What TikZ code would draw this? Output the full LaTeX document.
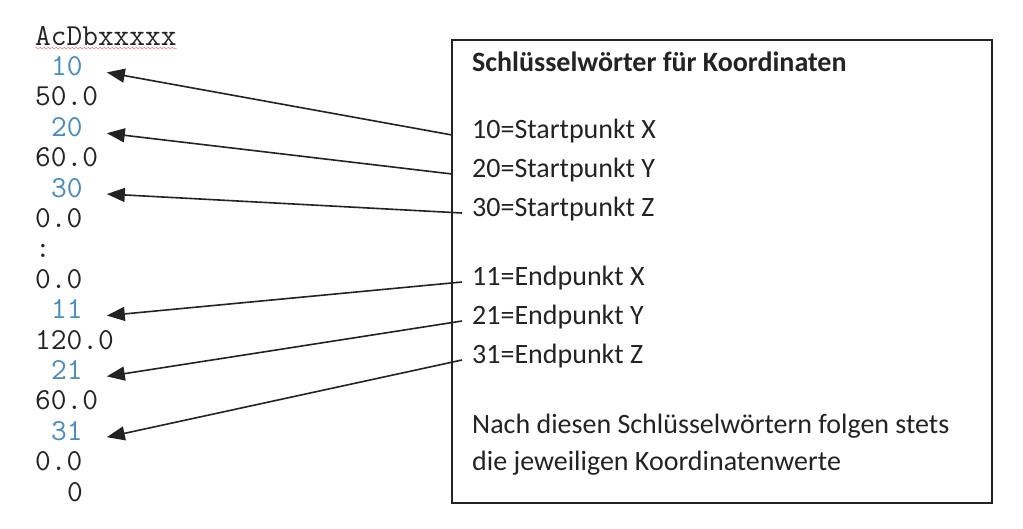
\documentclass[tikz,border=0pt]{standalone}
\usepackage{fontspec}
\setmainfont{Carlito}
\usepackage{tikz}
\usetikzlibrary{arrows.meta}
\usetikzlibrary{decorations.pathmorphing}

\definecolor{keyblue}{RGB}{70,140,190}
\definecolor{inkgray}{RGB}{35,35,35}

\tikzset{
  codeline/.style={anchor=west,inner sep=0pt,text height=0.6em,text depth=0pt,
    font=\ttfamily\fontsize{30.5}{34}\selectfont,text=inkgray},
  keyline/.style={codeline,text=keyblue},
  infoline/.style={anchor=west,inner sep=0pt,text height=0.64em,text depth=0pt,
    font=\fontsize{28}{34}\selectfont,text=inkgray},
  titleline/.style={infoline,font=\bfseries\fontsize{28}{34}\selectfont},
  pointer/.style={-{Triangle[length=18pt,width=14pt]},line width=1.6pt,inkgray},
}

\begin{document}
\begin{tikzpicture}[x=1pt,y=-1pt]
\useasboundingbox (0,0) rectangle (1023,528);
% code listing
\foreach \i/\t/\ind/\sty/\nm in {0/AcDbxxxxx/0/codeline/c0, 1/10/1/keyline/k10,
    2/50.0/0/codeline/c2, 3/20/1/keyline/k20, 4/60.0/0/codeline/c4,
    5/30/1/keyline/k30, 6/0.0/0/codeline/c6, 7/:/0/codeline/c7,
    8/0.0/0/codeline/c8, 9/11/1/keyline/k11, 10/120.0/0/codeline/c10,
    11/21/1/keyline/k21, 12/60.0/0/codeline/c12, 13/31/1/keyline/k31,
    14/0.0/0/codeline/c14, 15/0/2/codeline/c15}
  \node[\sty,name=\nm] at ({35+16*\ind},{42+30.4*\i}) {\t};
\draw[red!65,decorate,decoration={snake,amplitude=0.9pt,segment length=4pt}]
  ([yshift=-3pt]c0.south west) -- ([yshift=-3pt]c0.south east);

% legend box
\draw[inkgray,line width=1.8pt] (452,40) rectangle (992,503);
\node[titleline] (title) at (472,68) {Schlüsselwörter für Koordinaten};
\node[infoline] (s10) at (472,135) {10=Startpunkt X};
\node[infoline] (s20) at (472,174) {20=Startpunkt Y};
\node[infoline] (s30) at (472,213) {30=Startpunkt Z};
\node[infoline] (e11) at (472,282) {11=Endpunkt X};
\node[infoline] (e21) at (472,321) {21=Endpunkt Y};
\node[infoline] (e31) at (472,360) {31=Endpunkt Z};
\node[infoline] (note1) at (472,430) {Nach diesen Schlüsselwörtern folgen stets};
\node[infoline] (note2) at (472,467) {die jeweiligen Koordinatenwerte};

% pointers
\foreach \r/\k/\dx in {s10/k10/20, s20/k20/20, s30/k30/10, e11/k11/10, e21/k21/10, e31/k31/10}
  \draw[pointer] ([xshift=-\dx pt]\r.west) -- ([xshift=24pt]\k.east);
\end{tikzpicture}
\end{document}
